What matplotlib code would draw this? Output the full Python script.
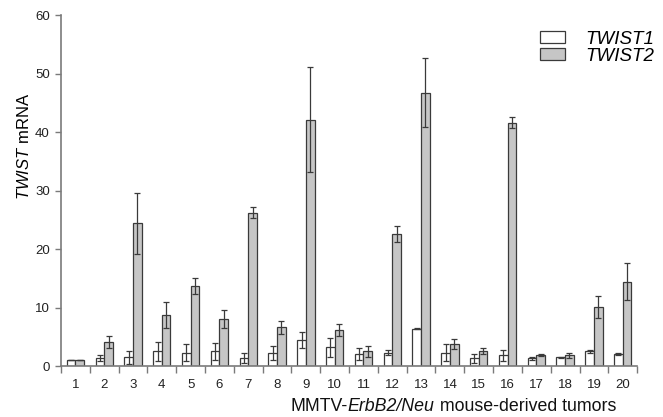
import numpy as np
import matplotlib.pyplot as plt
from matplotlib.offsetbox import TextArea, HPacker, AnchoredOffsetbox

plt.rcParams['font.family'] = ['Liberation Sans', 'DejaVu Sans']
plt.rcParams['mathtext.fontset'] = 'custom'
plt.rcParams['mathtext.rm'] = 'Liberation Sans'
plt.rcParams['mathtext.it'] = 'Liberation Sans:italic'

# --- данные ---
tumors = [str(i) for i in range(1, 21)]
twist1 = [1.0, 1.4, 1.5, 2.5, 2.3, 2.5, 1.4, 2.3, 4.4, 3.2,
          2.0, 2.3, 6.4, 2.3, 1.3, 1.8, 1.3, 1.5, 2.5, 2.0]
twist1_err = [0.0, 0.5, 1.1, 1.6, 1.4, 1.4, 0.9, 1.2, 1.4, 1.6,
              1.0, 0.5, 0.15, 1.5, 0.75, 0.9, 0.2, 0.05, 0.2, 0.15]
twist2 = [1.0, 4.1, 24.4, 8.7, 13.7, 8.0, 26.2, 6.6, 42.1, 6.2,
          2.5, 22.6, 46.7, 3.75, 2.5, 41.6, 1.9, 1.8, 10.1, 14.4]
twist2_err = [0.0, 1.1, 5.2, 2.2, 1.4, 1.5, 0.9, 1.1, 9.0, 1.0,
              0.9, 1.4, 5.9, 0.8, 0.5, 1.0, 0.15, 0.5, 1.9, 3.2]

edge = '#3a3a3a'
axis_col = '#7a7a7a'

fig = plt.figure(figsize=(6.63, 4.17), dpi=100)
ax = fig.add_axes([0.092, 0.1223, 0.869, 0.8417])

x = np.arange(1, len(tumors) + 1)
w = 0.3
ebar = dict(ecolor=edge, elinewidth=0.9, capsize=2.5, capthick=0.9)
ax.bar(x - w / 2, twist1, w, yerr=twist1_err, color='white', edgecolor=edge,
       linewidth=0.9, error_kw=ebar, label='TWIST1')
ax.bar(x + w / 2, twist2, w, yerr=twist2_err, color='#c6c6c6', edgecolor=edge,
       linewidth=0.9, error_kw=ebar, label='TWIST2')

ax.set_xlim(0.5, 20.5)
ax.set_ylim(0, 60)
ax.set_yticks(np.arange(0, 61, 10))
ax.set_xticks(x)
ax.set_xticklabels(tumors)
ax.set_xticks(np.arange(0.5, 21, 1), minor=True)
ax.tick_params(axis='x', which='major', length=0, pad=9, labelsize=9.5, labelcolor='#222222')
ax.tick_params(axis='x', which='minor', length=5, direction='out', color=axis_col, width=1)
ax.tick_params(axis='y', length=4, direction='out', color=axis_col, width=1,
               labelsize=9.5, labelcolor='#222222', pad=4)

for s in ['top', 'right']:
    ax.spines[s].set_visible(False)
for s in ['left', 'bottom']:
    ax.spines[s].set_color(axis_col)
    ax.spines[s].set_linewidth(1.2)

ax.set_ylabel(r'$\it{TWIST}$ mRNA', fontsize=12)
ax.yaxis.set_label_coords(-0.051, 0.627)

# подпись оси x из трёх кусков (курсив в середине)
parts = [TextArea('MMTV-', textprops=dict(size=12.8, color='#111111')),
         TextArea('ErbB2/Neu', textprops=dict(size=12.8, style='italic', color='#111111')),
         TextArea(' mouse-derived tumors', textprops=dict(size=12.8, color='#111111'))]
xl = HPacker(children=parts, align='baseline', pad=0, sep=0)
abox = AnchoredOffsetbox(loc='upper center', child=xl, pad=0, frameon=False,
                         bbox_to_anchor=(0.681, -0.09), bbox_transform=ax.transAxes,
                         borderpad=0)
ax.add_artist(abox)

ax.legend(loc='upper right', bbox_to_anchor=(1.042, 0.976), frameon=False,
          prop={'style': 'italic', 'size': 13.5}, handlelength=1.33, handleheight=0.59,
          handletextpad=1.07, labelspacing=0.0, borderaxespad=0)

plt.savefig('out.png', dpi=100)
